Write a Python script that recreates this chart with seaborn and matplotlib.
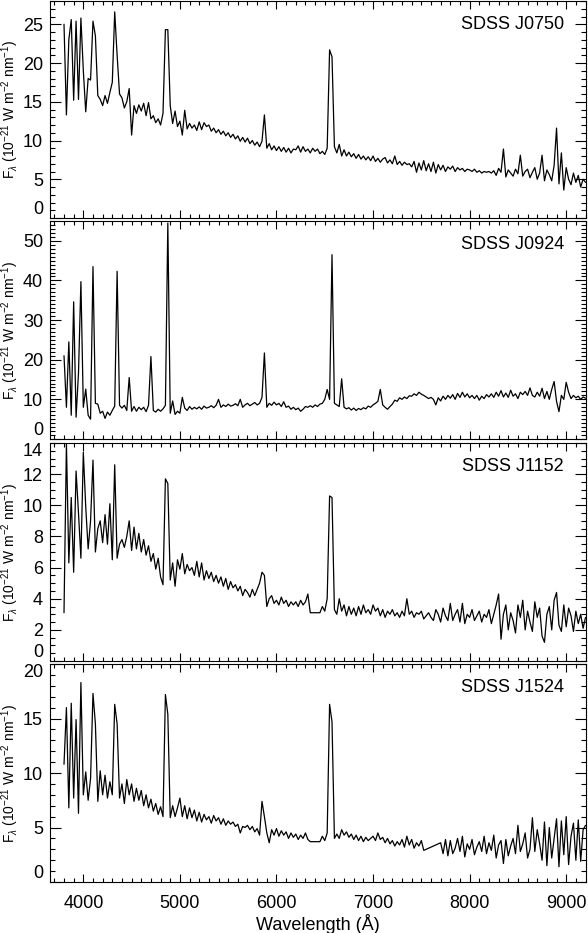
# Optical spectra of four SDSS objects, stacked panels in the IDL style

import matplotlib
matplotlib.use("Agg")
import matplotlib.pyplot as plt
from matplotlib.ticker import MultipleLocator
import numpy as np
import pandas as pd
import seaborn as sns

nan = np.nan

# wavelength grid (Angstrom), shared by all four spectra
wavelength = [
    3800, 3825, 3850, 3875, 3900, 3925, 3950, 3975,
    4000, 4025, 4050, 4075, 4100, 4125, 4150, 4175,
    4200, 4225, 4250, 4275, 4300, 4325, 4350, 4375,
    4400, 4425, 4450, 4475, 4500, 4525, 4550, 4575,
    4600, 4625, 4650, 4675, 4700, 4725, 4750, 4775,
    4800, 4825, 4850, 4875, 4900, 4925, 4950, 4975,
    5000, 5025, 5050, 5075, 5100, 5125, 5150, 5175,
    5200, 5225, 5250, 5275, 5300, 5325, 5350, 5375,
    5400, 5425, 5450, 5475, 5500, 5525, 5550, 5575,
    5600, 5625, 5650, 5675, 5700, 5725, 5750, 5775,
    5800, 5825, 5850, 5875, 5900, 5925, 5950, 5975,
    6000, 6025, 6050, 6075, 6100, 6125, 6150, 6175,
    6200, 6225, 6250, 6275, 6300, 6325, 6350, 6375,
    6400, 6425, 6450, 6475, 6500, 6525, 6550, 6575,
    6600, 6625, 6650, 6675, 6700, 6725, 6750, 6775,
    6800, 6825, 6850, 6875, 6900, 6925, 6950, 6975,
    7000, 7025, 7050, 7075, 7100, 7125, 7150, 7175,
    7200, 7225, 7250, 7275, 7300, 7325, 7350, 7375,
    7400, 7425, 7450, 7475, 7500, 7525, 7550, 7575,
    7600, 7625, 7650, 7675, 7700, 7725, 7750, 7775,
    7800, 7825, 7850, 7875, 7900, 7925, 7950, 7975,
    8000, 8025, 8050, 8075, 8100, 8125, 8150, 8175,
    8200, 8225, 8250, 8275, 8300, 8325, 8350, 8375,
    8400, 8425, 8450, 8475, 8500, 8525, 8550, 8575,
    8600, 8625, 8650, 8675, 8700, 8725, 8750, 8775,
    8800, 8825, 8850, 8875, 8900, 8925, 8950, 8975,
    9000, 9025, 9050, 9075, 9100, 9125, 9150, 9175,
    9200,
]

flux_j0750 = [
    25.0, 13.3, 23.0, 25.6, 15.2, 25.4, 15.3, 25.8,
    19.0, 13.7, 18.0, 17.8, 25.4, 23.5, 15.8, 15.3,
    14.5, 15.8, 14.8, 16.2, 17.5, 26.6, 21.0, 16.0,
    15.5, 14.2, 15.0, 16.7, 10.7, 14.5, 13.5, 14.6,
    13.8, 14.8, 13.2, 14.9, 12.8, 13.2, 12.3, 12.8,
    12.0, 13.5, 24.3, 24.3, 14.5, 12.2, 13.8, 11.8,
    12.5, 10.7, 13.9, 11.5, 12.2, 11.6, 12.0, 11.3,
    12.4, 11.4, 12.3, 11.8, 12.0, 11.2, 11.6, 11.0,
    11.4, 10.8, 11.2, 10.6, 11.0, 10.4, 10.8, 10.2,
    10.6, 9.9, 10.4, 9.8, 10.3, 9.6, 10.0, 9.4,
    9.8, 9.2, 9.9, 13.3, 9.0, 9.6, 8.8, 9.3,
    8.7, 9.2, 8.6, 9.1, 8.5, 9.0, 8.4, 8.9,
    8.8, 9.3, 8.5, 9.2, 8.6, 8.9, 8.4, 9.0,
    8.6, 8.9, 8.3, 8.6, 8.2, 9.0, 21.7, 20.8,
    9.2, 8.4, 9.5, 8.0, 8.8, 8.0, 8.5, 7.9,
    8.3, 7.7, 8.2, 7.6, 8.0, 7.5, 7.9, 7.4,
    8.0, 7.3, 7.7, 7.2, 7.6, 7.8, 7.1, 7.5,
    7.0, 8.0, 6.9, 7.3, 6.8, 7.2, 6.9, 7.0,
    6.6, 7.3, 5.9, 7.1, 6.2, 7.4, 6.1, 7.0,
    6.0, 7.2, 5.8, 6.9, 6.2, 6.8, 6.0, 6.6,
    6.3, 6.7, 6.0, 6.5, 6.2, 6.4, 6.0, 6.3,
    6.2, 6.0, 6.3, 5.9, 6.1, 5.8, 6.0, 5.9,
    6.0, 5.8, 6.1, 5.5, 6.4, 5.9, 8.9, 5.3,
    6.2, 5.8, 5.4, 6.3, 5.7, 8.1, 5.4, 6.0,
    6.3, 5.2, 5.9, 6.5, 5.0, 5.8, 8.1, 4.8,
    6.2, 5.6, 4.8, 6.8, 11.6, 4.4, 8.4, 3.6,
    6.5, 5.0, 4.3, 5.8, 4.6, 5.5, 4.0, 5.0,
    4.6,
]

flux_j0924 = [
    21.0, 8.0, 24.5, 6.0, 34.6, 5.5, 16.6, 39.7,
    8.0, 12.6, 6.0, 5.0, 43.5, 9.0, 8.8, 6.5,
    7.0, 5.2, 6.8, 6.0, 7.2, 8.3, 42.3, 8.5,
    7.8, 8.5, 7.2, 15.5, 7.0, 8.2, 7.0, 8.0,
    7.4, 8.0, 6.9, 8.5, 20.8, 7.2, 6.8, 7.5,
    7.0, 7.6, 8.5, 54.5, 6.5, 9.6, 6.2, 7.0,
    6.5, 10.5, 7.8, 7.2, 8.2, 7.5, 8.0, 7.6,
    8.1, 7.5, 8.3, 7.8, 8.0, 8.4, 7.9, 8.5,
    10.0, 8.0, 8.6, 8.2, 8.8, 8.3, 8.5, 8.9,
    8.4, 10.0, 8.0, 8.6, 9.0, 8.4, 8.8, 9.2,
    8.6, 9.0, 10.5, 21.7, 8.0, 9.0, 8.5, 9.3,
    8.6, 9.0, 8.2, 9.4, 8.0, 8.3, 7.5, 8.0,
    7.4, 7.8, 7.0, 7.5, 8.2, 8.0, 8.4, 8.0,
    8.6, 8.2, 8.8, 9.0, 10.0, 12.5, 10.0, 46.5,
    9.0, 8.6, 8.2, 15.2, 8.0, 7.6, 7.9, 7.3,
    7.8, 7.2, 7.7, 7.4, 7.9, 7.6, 8.3, 8.0,
    8.6, 9.0, 9.5, 12.5, 8.6, 8.0, 7.5, 8.2,
    8.8, 9.8, 9.5, 10.4, 10.0, 10.6, 10.2, 10.9,
    10.8, 11.4, 11.0, 11.8, 11.3, 11.0, 10.6, 10.2,
    10.5, 10.0, 8.6, 10.4, 9.6, 10.8, 10.0, 11.0,
    10.3, 11.2, 10.0, 11.5, 10.5, 11.8, 10.6, 11.4,
    10.4, 11.0, 10.2, 11.0, 9.8, 10.8, 10.2, 11.2,
    10.6, 11.4, 10.5, 11.8, 10.8, 12.2, 10.6, 11.6,
    10.5, 12.3, 10.8, 11.4, 10.2, 11.8, 11.2, 12.0,
    11.0, 12.9, 11.0, 10.6, 11.8, 10.8, 12.8, 10.2,
    12.0, 10.0, 12.5, 14.5, 9.5, 6.9, 11.0, 10.0,
    14.3, 11.8, 10.2, 11.0, 10.4, 10.8, 10.0, 10.6,
    10.3,
]

flux_j1152 = [
    3.1, 14.0, 6.3, 10.5, 5.7, 12.2, 9.5, 6.6,
    13.4, 9.9, 7.2, 9.0, 12.9, 7.0, 8.5, 9.0,
    7.6, 9.4, 7.5, 10.1, 6.5, 12.6, 6.6, 7.5,
    7.8, 7.3, 8.0, 9.0, 7.1, 8.6, 7.2, 8.2,
    7.0, 7.8, 6.8, 7.4, 6.4, 6.9, 5.9, 6.6,
    5.4, 4.9, 11.7, 11.4, 5.2, 6.3, 4.8, 6.5,
    5.9, 6.9, 5.6, 6.2, 5.8, 6.0, 5.5, 6.4,
    5.4, 6.3, 5.2, 5.8, 5.3, 5.7, 5.1, 5.5,
    5.0, 5.4, 4.8, 5.3, 4.6, 5.1, 4.7, 4.9,
    4.5, 4.8, 4.2, 4.6, 4.4, 4.1, 4.6, 4.2,
    4.6, 5.0, 5.7, 5.5, 3.5, 4.0, 4.2, 3.7,
    3.9, 3.6, 4.1, 3.7, 3.9, 3.5, 3.8, 3.6,
    3.8, 3.5, 3.9, 3.6, 3.8, 4.3, 3.1, nan,
    nan, nan, 3.1, 3.5, 3.2, 4.0, 10.6, 10.5,
    3.3, 3.0, 4.0, 3.2, 3.6, 2.9, 3.5, 3.0,
    3.4, 2.9, 3.5, 3.0, 3.6, 3.1, 3.3, 3.0,
    3.6, 3.2, 3.4, 2.9, 3.3, 2.8, 3.2, 3.0,
    3.3, 2.9, 3.1, 2.8, 3.2, 2.9, 4.0, 3.0,
    3.2, 2.8, 3.1, 3.0, 3.2, 2.7, 2.9, 3.1,
    2.8, 2.6, 3.3, 3.0, 2.5, 3.4, 2.9, 2.6,
    3.7, 2.6, 3.0, 3.3, 2.5, 3.7, 2.4, 3.0,
    2.8, 3.3, 2.6, 2.9, 3.2, 2.5, 3.0, 2.8,
    3.3, 2.4, 3.0, 3.6, 4.3, 1.4, 3.0, 3.6,
    2.0, 3.1, 2.6, 1.8, 3.6, 2.8, 3.9, 2.0,
    3.2, 2.5, 1.9, 3.8, 2.8, 3.4, 1.6, 1.2,
    3.0, 3.5, 2.0, 3.9, 4.4, 2.3, 1.9, 3.6,
    2.2, 3.4, 2.9, 1.9, 3.2, 2.4, 3.0, 2.1,
    2.8,
]

flux_j1524 = [
    10.8, 16.0, 6.8, 16.4, 7.7, 14.9, 6.3, 18.3,
    8.0, 10.1, 7.5, 9.5, 17.3, 14.5, 7.4, 10.2,
    8.0, 9.8, 7.7, 9.2, 8.0, 16.3, 14.5, 7.7,
    9.0, 7.2, 9.4, 8.0, 9.0, 7.4, 8.6, 7.5,
    8.4, 7.0, 8.0, 6.8, 7.6, 6.5, 7.2, 6.2,
    6.9, 6.0, 17.2, 15.4, 5.9, 7.0, 6.0, 6.8,
    7.7, 6.0, 7.0, 5.8, 6.8, 5.9, 6.6, 5.6,
    6.4, 5.5, 6.2, 5.7, 6.0, 5.4, 6.1, 5.6,
    5.9, 5.3, 5.8, 5.2, 5.6, 5.3, 5.5, 5.1,
    5.3, 4.5, 5.1, 5.0, 5.2, 4.8, 5.1, 4.6,
    4.9, 4.3, 7.4, 6.0, 4.5, 3.6, 4.8, 4.3,
    4.9, 4.2, 4.7, 4.3, 4.6, 4.0, 4.5, 4.1,
    4.4, 3.9, 4.3, 4.0, 4.5, 3.9, 3.7, nan,
    nan, nan, 3.7, 4.2, 3.8, 4.5, 16.3, 14.7,
    4.0, 4.4, 4.0, 4.8, 4.3, 4.6, 4.1, 4.4,
    3.9, 4.3, 3.8, 4.2, 3.7, 4.1, 3.8, 4.0,
    4.2, 3.8, 4.5, 3.9, 4.1, 3.6, 4.0, 3.5,
    3.8, 3.3, 3.7, 3.4, 3.9, 3.2, 4.2, 3.4,
    3.9, 3.1, 3.6, 3.3, 3.8, 2.9, nan, nan,
    nan, nan, nan, nan, 3.6, 2.6, 3.9, 2.4,
    3.8, 2.6, 3.1, 4.0, 2.8, 4.2, 2.3, 3.5,
    3.0, 3.9, 2.5, 3.2, 3.7, 2.8, 4.2, 2.6,
    3.6, 2.9, 4.3, 2.2, 3.4, 3.8, 1.7, 3.9,
    2.4, 3.3, 4.0, 2.6, 5.2, 2.8, 3.5, 4.5,
    2.2, 3.0, 5.9, 2.8, 4.8, 3.5, 2.0, 5.5,
    1.5, 5.0, 2.2, 4.0, 5.8, 1.4, 5.6, 2.5,
    6.0, 1.6, 4.2, 5.4, 2.0, 5.7, 1.9, 4.8,
    5.2,
]

objects = ["SDSS J0750", "SDSS J0924", "SDSS J1152", "SDSS J1524"]
fluxes = [flux_j0750, flux_j0924, flux_j1152, flux_j1524]
y_top = [28, 55, 14, 20]
y_major = [5, 10, 2, 5]
y_minor = [1, 1, 0.5, 1]

for f in fluxes:
    assert len(f) == len(wavelength), len(f)

frames = []
for name, flux in zip(objects, fluxes):
    frames.append(pd.DataFrame({"wavelength": wavelength, "flux": flux, "object": name}))
df = pd.concat(frames, ignore_index=True).dropna()

sns.set_theme(style="ticks", rc={"text.color": "black", "axes.labelcolor": "black",
                                 "xtick.color": "black", "ytick.color": "black",
                                 "axes.edgecolor": "black"})
plt.rcParams["font.family"] = ["Liberation Sans", "DejaVu Sans"]
plt.rcParams["mathtext.fontset"] = "custom"
plt.rcParams["mathtext.rm"] = "Liberation Sans"
plt.rcParams["mathtext.it"] = "Liberation Sans:italic"

W, H = 588, 933
fig = plt.figure(figsize=(W / 100, H / 100), dpi=100)

# panel edges in pixels (top, bottom)
panel_px = [(1, 218), (221, 439), (443, 661), (664, 882)]
left_px, right_px = 50, 586

for i, name in enumerate(objects):
    top, bot = panel_px[i]
    ax = fig.add_axes([left_px / W, 1 - bot / H, (right_px - left_px) / W, (bot - top) / H])
    sub = df[df["object"] == name]
    sns.lineplot(data=sub, x="wavelength", y="flux", ax=ax, color="black",
                 linewidth=0.9, estimator=None, sort=False)

    ax.set_xlim(3655, 9205)
    ax.xaxis.set_major_locator(MultipleLocator(1000))
    ax.xaxis.set_minor_locator(MultipleLocator(100))
    ax.set_yticks(np.arange(0, y_top[i] + 0.01, y_major[i]))
    ax.yaxis.set_minor_locator(MultipleLocator(y_minor[i]))
    ax.set_ylim(0, y_top[i])

    ax.tick_params(axis="both", which="both", direction="in", top=True, right=True,
                   labelsize=13, width=0.8)
    ax.tick_params(axis="y", which="major", length=8, pad=5)
    ax.tick_params(axis="y", which="minor", length=3.6)
    ax.tick_params(axis="x", which="major", length=6, pad=9.5)
    ax.tick_params(axis="x", which="minor", length=3)
    for sp in ax.spines.values():
        sp.set_linewidth(0.8)
        sp.set_color("black")

    # IDL keeps the end labels inside the panel
    labels = ax.get_yticklabels()
    labels[0].set_verticalalignment("bottom")
    if y_top[i] % y_major[i] == 0:
        labels[-1].set_verticalalignment("top")

    ax.set_ylabel(r"F$_{\lambda}$ (10$^{-21}$ W m$^{-2}$ nm$^{-1}$)", fontsize=10)
    ax.yaxis.set_label_coords(-0.055, 0.5)

    ax.text(0.959, 0.892, name, transform=ax.transAxes, ha="right", va="center",
            fontsize=13)

    if i < 3:
        ax.set_xlabel("")
        ax.tick_params(axis="x", labelbottom=False)
    else:
        ax.set_xlabel("Wavelength (Å)", fontsize=13, labelpad=1)

fig.savefig("out.png", dpi=100)
